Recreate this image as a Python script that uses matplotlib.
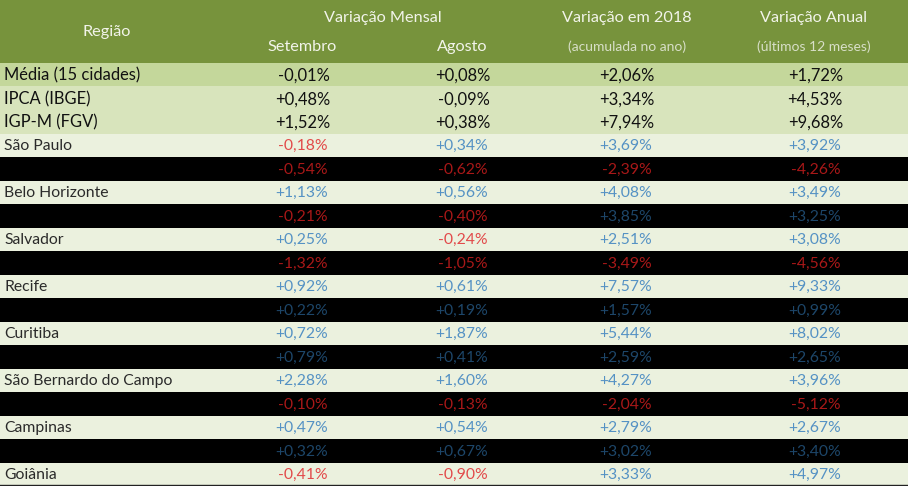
import matplotlib
matplotlib.use("Agg")
import matplotlib.pyplot as plt
from matplotlib.patches import Rectangle

# ---------------- data ----------------
regions = ["Média (15 cidades)", "IPCA (IBGE)", "IGP-M (FGV)",
           "São Paulo", "", "Belo Horizonte", "", "Salvador", "",
           "Recife", "", "Curitiba", "", "São Bernardo do Campo", "",
           "Campinas", "", "Goiânia"]
setembro = [-0.01, 0.48, 1.52, -0.18, -0.54, 1.13, -0.21, 0.25, -1.32,
            0.92, 0.22, 0.72, 0.79, 2.28, -0.10, 0.47, 0.32, -0.41]
agosto = [0.08, -0.09, 0.38, 0.34, -0.62, 0.56, -0.40, -0.24, -1.05,
          0.61, 0.19, 1.87, 0.41, 1.60, -0.13, 0.54, 0.67, -0.90]
acum2018 = [2.06, 3.34, 7.94, 3.69, -2.39, 4.08, 3.85, 2.51, -3.49,
            7.57, 1.57, 5.44, 2.59, 4.27, -2.04, 2.79, 3.02, 3.33]
anual = [1.72, 4.53, 9.68, 3.92, -4.26, 3.49, 3.25, 3.08, -4.56,
         9.33, 0.99, 8.02, 2.65, 3.96, -5.12, 2.67, 3.40, 4.97]

header_top = ["Região", "Variação Mensal", "Variação em 2018", "Variação Anual"]
header_sub = ["Setembro", "Agosto", "(acumulada no ano)", "(últimos 12 meses)"]

# ---------------- style ----------------
W, H = 908, 486
HEAD_H = 63
ROW_H = (H - HEAD_H) / len(regions)
GREEN = "#77933C"
MEDIA_BG = "#C4D79B"
IDX_BG = "#D8E4BC"
LIGHT_BG = "#EBF1DE"
DARK_BG = "#000000"
FONT = "Lato"

fig = plt.figure(figsize=(W / 100, H / 100), dpi=100)
ax = fig.add_axes([0, 0, 1, 1])
ax.set_xlim(0, W)
ax.set_ylim(H, 0)
ax.axis("off")

def fmt(v):
    return f"{v:+.2f}%".replace(".", ",")

# header
ax.add_patch(Rectangle((0, 0), W, HEAD_H, color=GREEN, lw=0))
hc = "#F2F4EA"
subc = "#D8DFC8"
HS = 11.7
ax.text(107, 32, header_top[0], ha="center", va="center", fontsize=HS, color=hc, family=FONT)
ax.text(383, 18, header_top[1], ha="center", va="center", fontsize=HS, color=hc, family=FONT)
ax.text(627, 18, header_top[2], ha="center", va="center", fontsize=HS, color=hc, family=FONT)
ax.text(814, 18, header_top[3], ha="center", va="center", fontsize=HS, color=hc, family=FONT)
ax.text(302, 47, header_sub[0], ha="center", va="center", fontsize=HS, color=hc, family=FONT)
ax.text(462, 47, header_sub[1], ha="center", va="center", fontsize=HS, color=hc, family=FONT)
ax.text(627, 47, header_sub[2], ha="center", va="center", fontsize=10, color=subc, family=FONT)
ax.text(814, 47, header_sub[3], ha="center", va="center", fontsize=10, color=subc, family=FONT)

col_x = [328, 488, 652, 841]
for i, name in enumerate(regions):
    top = HEAD_H + i * ROW_H
    yc = top + ROW_H / 2 + 1
    vals = [setembro[i], agosto[i], acum2018[i], anual[i]]
    if i < 3:
        bg = MEDIA_BG if i == 0 else IDX_BG
        ax.add_patch(Rectangle((0, top), W, ROW_H, color=bg, lw=0))
        ax.text(4, yc, name, ha="left", va="center", fontsize=11.9, color="#111111", family=FONT)
        for x, v in zip(col_x, vals):
            ax.text(x + 2, yc, fmt(v), ha="right", va="center", fontsize=11.9, color="#111111", family=FONT)
    else:
        dark = (i - 3) % 2 == 1
        bg = DARK_BG if dark else LIGHT_BG
        ax.add_patch(Rectangle((0, top), W, ROW_H, color=bg, lw=0))
        if name:
            ax.text(4, yc, name, ha="left", va="center", fontsize=11.3, color="#2a2a2a",
                    family=FONT)
        for x, v in zip(col_x, vals):
            if dark:
                c = "#A81818" if v < 0 else "#1D4669"
            else:
                c = "#E24A4A" if v < 0 else "#5592C4"
            ax.text(x, yc, fmt(v), ha="right", va="center", fontsize=11.3, color=c,
                    family=FONT)

ax.plot([0, W], [H - 0.8, H - 0.8], color="#222222", lw=1)

fig.savefig("out.png", dpi=100)
